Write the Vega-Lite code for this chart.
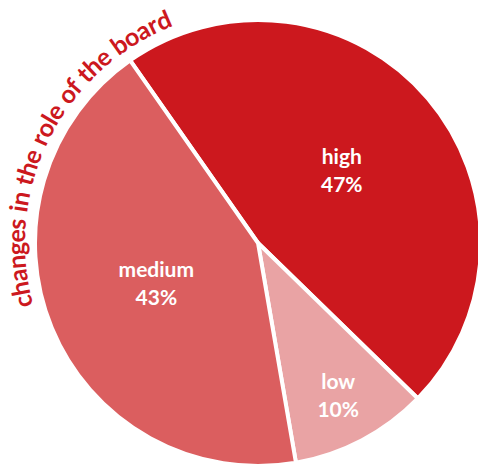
{
  "$schema": "https://vega.github.io/schema/vega-lite/v6.json",
  "autosize": "none",
  "width": 446,
  "height": 446,
  "padding": {"left": 35, "top": 20, "right": 0, "bottom": 0},
  "background": "white",
  "config": {"view": {"stroke": null}},
  "data": {"values": [
    {"cat": "high", "v": 47},
    {"cat": "low", "v": 10},
    {"cat": "medium", "v": 43}
  ]},
  "transform": [{"calculate": "datum.cat + '\\n' + datum.v + '%'", "as": "label"}],
  "resolve": {"scale": {"theta": "independent", "color": "independent"}},
  "layer": [
    {
      "mark": {"type": "arc", "outerRadius": 223, "stroke": "white", "strokeWidth": 4},
      "encoding": {
        "theta": {"field": "v", "type": "quantitative", "stack": true, "scale": {"range": [-0.6109, 5.6723]}},
        "color": {"field": "cat", "type": "nominal", "legend": null,
          "scale": {"domain": ["high", "low", "medium"], "range": ["#cc181e", "#e9a3a4", "#db5e5f"]}}
      }
    },
    {
      "mark": {"type": "text", "radius": 110, "dy": -14, "font": "Lato", "fontWeight": "bold", "fontSize": 21, "color": "white", "lineBreak": "\n", "lineHeight": 28, "align": "center", "baseline": "middle"},
      "encoding": {
        "theta": {"field": "v", "type": "quantitative", "stack": true, "scale": {"range": [-0.6109, 5.6723]}},
        "order": {"field": "cat", "type": "nominal"},
        "text": {"condition": {"test": "datum.cat !== 'low'", "field": "label"}, "value": ""}
      }
    },
    {
      "mark": {"type": "text", "radius": 172, "dy": -12, "font": "Lato", "fontWeight": "bold", "fontSize": 21, "color": "white", "lineBreak": "\n", "lineHeight": 28, "align": "center", "baseline": "middle"},
      "encoding": {
        "theta": {"field": "v", "type": "quantitative", "stack": true, "scale": {"range": [-0.6109, 5.6723]}},
        "order": {"field": "cat", "type": "nominal"},
        "text": {"condition": {"test": "datum.cat === 'low'", "field": "label"}, "value": ""}
      }
    },
    {
      "data": {"values": [
        {"i": 0, "ch": "c"}, {"i": 1, "ch": "h"}, {"i": 2, "ch": "a"}, {"i": 3, "ch": "n"},
        {"i": 4, "ch": "g"}, {"i": 5, "ch": "e"}, {"i": 6, "ch": "s"}, {"i": 7, "ch": " "},
        {"i": 8, "ch": "i"}, {"i": 9, "ch": "n"}, {"i": 10, "ch": " "}, {"i": 11, "ch": "t"},
        {"i": 12, "ch": "h"}, {"i": 13, "ch": "e"}, {"i": 14, "ch": " "}, {"i": 15, "ch": "r"},
        {"i": 16, "ch": "o"}, {"i": 17, "ch": "l"}, {"i": 18, "ch": "e"}, {"i": 19, "ch": " "},
        {"i": 20, "ch": "o"}, {"i": 21, "ch": "f"}, {"i": 22, "ch": " "}, {"i": 23, "ch": "t"},
        {"i": 24, "ch": "h"}, {"i": 25, "ch": "e"}, {"i": 26, "ch": " "}, {"i": 27, "ch": "b"},
        {"i": 28, "ch": "o"}, {"i": 29, "ch": "a"}, {"i": 30, "ch": "r"}, {"i": 31, "ch": "d"}
      ]},
      "transform": [
        {"calculate": "{'c':0.47,'h':0.58,'a':0.52,'n':0.58,'g':0.51,'e':0.53,'s':0.42,' ':0.28,'i':0.27,'t':0.36,'r':0.39,'o':0.57,'l':0.27,'f':0.34,'b':0.58,'d':0.58}[datum.ch]", "as": "w"},
        {"window": [{"op": "sum", "field": "w", "as": "cum"}], "sort": [{"field": "i", "order": "ascending"}], "frame": [null, 0]},
        {"calculate": "datum.cum - datum.w / 2", "as": "mid"}
      ],
      "mark": {"type": "text", "radius": 241, "font": "Lato", "fontWeight": "bold", "fontSize": 25, "color": "#cc181e", "align": "center", "baseline": "middle"},
      "encoding": {
        "theta": {"field": "mid", "type": "quantitative", "stack": null, "scale": {"domain": [0.235, 14.1], "range": [-1.815, -0.401]}},
        "angle": {"field": "mid", "type": "quantitative", "legend": null, "scale": {"domain": [0.235, 14.1], "range": [-104, -23]}},
        "text": {"field": "ch", "type": "nominal"}
      }
    }
  ]
}
